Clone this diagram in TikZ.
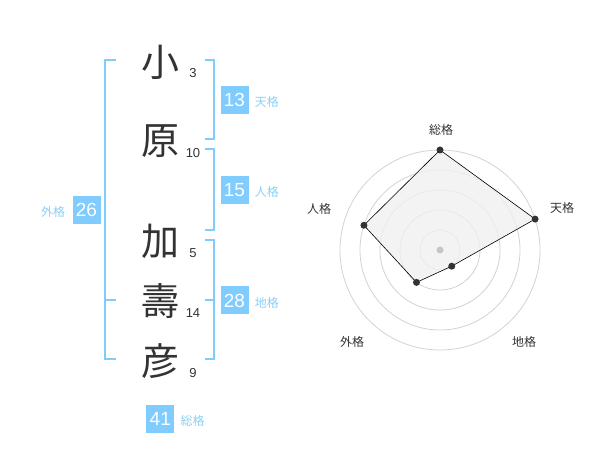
\documentclass[tikz,border=0pt]{standalone}
\usepackage{fontspec}
\setmainfont{Liberation Sans}
\newfontfamily\jp{Noto Sans CJK JP}
\usetikzlibrary{positioning, calc}
\definecolor{kakublue}{HTML}{80CCFF}
\definecolor{kakutext}{HTML}{8CCFF5}
\definecolor{ink}{HTML}{333333}
\definecolor{ringgray}{HTML}{D2D2D2}
\definecolor{areagray}{HTML}{F0F0F0}

\begin{document}
\begin{tikzpicture}[x=1pt, y=-1pt]
  \tikzset{
    kanji/.style={text=ink, font=\jp\fontsize{38}{38}\selectfont, inner sep=0pt},
    strokes/.style={text=ink, font=\fontsize{13}{13}\selectfont, inner sep=0pt},
    kakubox/.style={fill=kakublue, text=white, minimum size=28pt, inner sep=0pt, font=\fontsize{19}{19}\selectfont},
    kakuname/.style={text=kakutext, font=\jp\fontsize{12}{12}\selectfont, inner sep=0pt},
    brace/.style={draw=kakublue, line width=2pt},
    ring/.style={draw=ringgray, line width=0.8pt},
    dot/.style={circle, fill=ink, minimum size=7pt, inner sep=0pt},
    axisname/.style={text=ink, font=\jp\fontsize{12}{12}\selectfont, inner sep=0pt}
  }
  \useasboundingbox (0,0) rectangle (600,470);

  % name
  \node[kanji] (k1) at (160,62) {小};
  \node[kanji] (k2) at (160,141) {原};
  \node[kanji] (k3) at (160,241) {加};
  \node[kanji] (k4) at (160,301) {壽};
  \node[kanji] (k5) at (160,361) {彦};

  \node[strokes] (s1) at (193,73) {3};
  \node[strokes] (s2) at (193,153) {10};
  \node[strokes] (s3) at (193,253) {5};
  \node[strokes] (s4) at (193,313) {14};
  \node[strokes] (s5) at (193,373) {9};

  % brackets
  \draw[brace] (116,60) -- (105,60) -- (105,359) -- (116,359);
  \draw[brace] (105,300) -- (116,300);
  \draw[brace] (205,60) -- (214,60) -- (214,139) -- (205,139);
  \draw[brace] (205,149) -- (214,149) -- (214,230) -- (205,230);
  \draw[brace] (205,240) -- (214,240) -- (214,359) -- (205,359);
  \draw[brace] (214,300) -- (205,300);

  % kaku
  \node[kakubox] (gai) at (86.5,210) {26};
  \node[kakuname] (gainame) [left=7pt of gai, yshift=-2pt] {外格};
  \node[kakubox] (ten) at (234.5,100) {13};
  \node[kakuname] (tenname) [right=6pt of ten, yshift=-2pt] {天格};
  \node[kakubox] (jin) at (234.5,190) {15};
  \node[kakuname] (jinname) [right=6pt of jin, yshift=-2pt] {人格};
  \node[kakubox] (chi) at (234.5,300.5) {28};
  \node[kakuname] (chiname) [right=6pt of chi, yshift=-2pt] {地格};
  \node[kakubox] (sou) at (160.3,419) {41};
  \node[kakuname] (souname) [right=6pt of sou, yshift=-2pt] {総格};

  % radar
  \coordinate (c) at (440,250);
  \draw[ring] (c) circle (20);
  \draw[ring] (c) circle (40);
  \draw[ring] (c) circle (60);
  \draw[ring] (c) circle (80);
  \draw[ring] (c) circle (100);

  \coordinate (p1) at ($(c)+(-90:100)$);
  \coordinate (p2) at ($(c)+(-18:100)$);
  \coordinate (p3) at ($(c)+(54:20)$);
  \coordinate (p4) at ($(c)+(126:40)$);
  \coordinate (p5) at ($(c)+(198:80)$);

  \fill[areagray, opacity=0.8] (p1) -- (p2) -- (p3) -- (p4) -- (p5) -- cycle;
  \draw[black, line width=0.6pt] (p1) -- (p2) -- (p3) -- (p4) -- (p5) -- cycle;
  \fill[gray!45] (c) circle (3.5);

  \node[dot] (d1) at (p1) {};
  \node[dot] (d2) at (p2) {};
  \node[dot] (d3) at (p3) {};
  \node[dot] (d4) at (p4) {};
  \node[dot] (d5) at (p5) {};

  \node[axisname] (a1) at (441,130) {総格};
  \node[axisname] (a2) at (562,208) {天格};
  \node[axisname] (a3) at (524,342) {地格};
  \node[axisname] (a4) at (352,342) {外格};
  \node[axisname] (a5) at (319,209) {人格};
\end{tikzpicture}
\end{document}
